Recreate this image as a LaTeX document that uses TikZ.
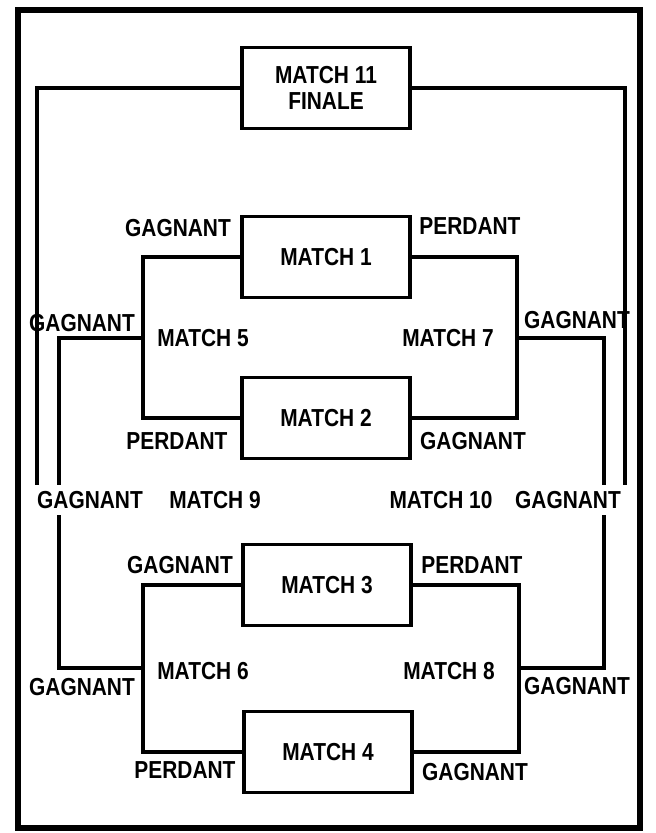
\documentclass[tikz,border=0pt]{standalone}
\usepackage{fontspec}
\setmainfont{Liberation Sans}[FakeStretch=0.85]
\begin{document}
\begin{tikzpicture}[
    x=0.02cm, y=-0.02cm,
    line width=1.8pt,
    match/.style={draw, line width=2.2pt, minimum width=3.35cm, minimum height=1.62cm,
        align=center, font=\bfseries\fontsize{14}{15}\selectfont},
    lbl/.style={inner sep=0pt, font=\bfseries\fontsize{14}{15}\selectfont}
]
\useasboundingbox (0,0) rectangle (656,833);
\draw[line width=3.6pt] (18,10) rectangle (640,828);

\node[match] (m11) at (326,88) {MATCH 11\\FINALE};
\node[match] (m1) at (326,257) {MATCH 1};
\node[match] (m2) at (326,418) {MATCH 2};
\node[match] (m3) at (327,585) {MATCH 3};
\node[match] (m4) at (328,752) {MATCH 4};

% labels
\node[lbl] (g1) at (178,228) {GAGNANT};
\node[lbl] (p1) at (470,226) {PERDANT};
\node[lbl] (g5) at (82,323) {GAGNANT};
\node[lbl] (t5) at (203,338) {MATCH 5};
\node[lbl] (t7) at (448,338) {MATCH 7};
\node[lbl] (g7) at (577,320) {GAGNANT};
\node[lbl] (p2) at (177,441) {PERDANT};
\node[lbl] (g2) at (473,441) {GAGNANT};
\node[lbl] (g9) at (90,500) {GAGNANT};
\node[lbl] (t9) at (215,500) {MATCH 9};
\node[lbl] (t10) at (441,500) {MATCH 10};
\node[lbl] (g10) at (568,500) {GAGNANT};
\node[lbl] (g3) at (180,565) {GAGNANT};
\node[lbl] (p3) at (472,565) {PERDANT};
\node[lbl] (g6) at (82,687) {GAGNANT};
\node[lbl] (t6) at (203,671) {MATCH 6};
\node[lbl] (t8) at (449,671) {MATCH 8};
\node[lbl] (g8) at (577,686) {GAGNANT};
\node[lbl] (p4) at (185,770) {PERDANT};
\node[lbl] (g4) at (475,772) {GAGNANT};

% junctions and free ends
\coordinate (j5) at (143,338);
\coordinate (j7) at (517,338);
\coordinate (j6) at (143,668);
\coordinate (j8) at (519,668);
\coordinate (fl) at (37,485);
\coordinate (fr) at (625,485);
\coordinate (n9a) at (59,485);
\coordinate (n9b) at (59,515);
\coordinate (n10a) at (604,485);
\coordinate (n10b) at (604,515);

% first round brackets
\draw (m1.west) -- (j5 |- m1.west) -- (j5 |- m2.west) -- (m2.west);
\draw (m1.east) -- (j7 |- m1.east) -- (j7 |- m2.east) -- (m2.east);
\draw (m3.west) -- (j6 |- m3.west) -- (j6 |- m4.west) -- (m4.west);
\draw (m4.east) -- (j8 |- m4.east) -- (j8 |- m3.east) -- (m3.east);

% semi finals
\draw (j5) -- (n9a |- j5) -- (n9a);
\draw (n9b) -- (n9b |- j6) -- (j6);
\draw (j7) -- (n10a |- j7) -- (n10a);
\draw (n10b) -- (n10b |- j8) -- (j8);

% finale
\draw (m11.west) -- (fl |- m11.west) -- (fl);
\draw (m11.east) -- (fr |- m11.east) -- (fr);
\end{tikzpicture}
\end{document}
